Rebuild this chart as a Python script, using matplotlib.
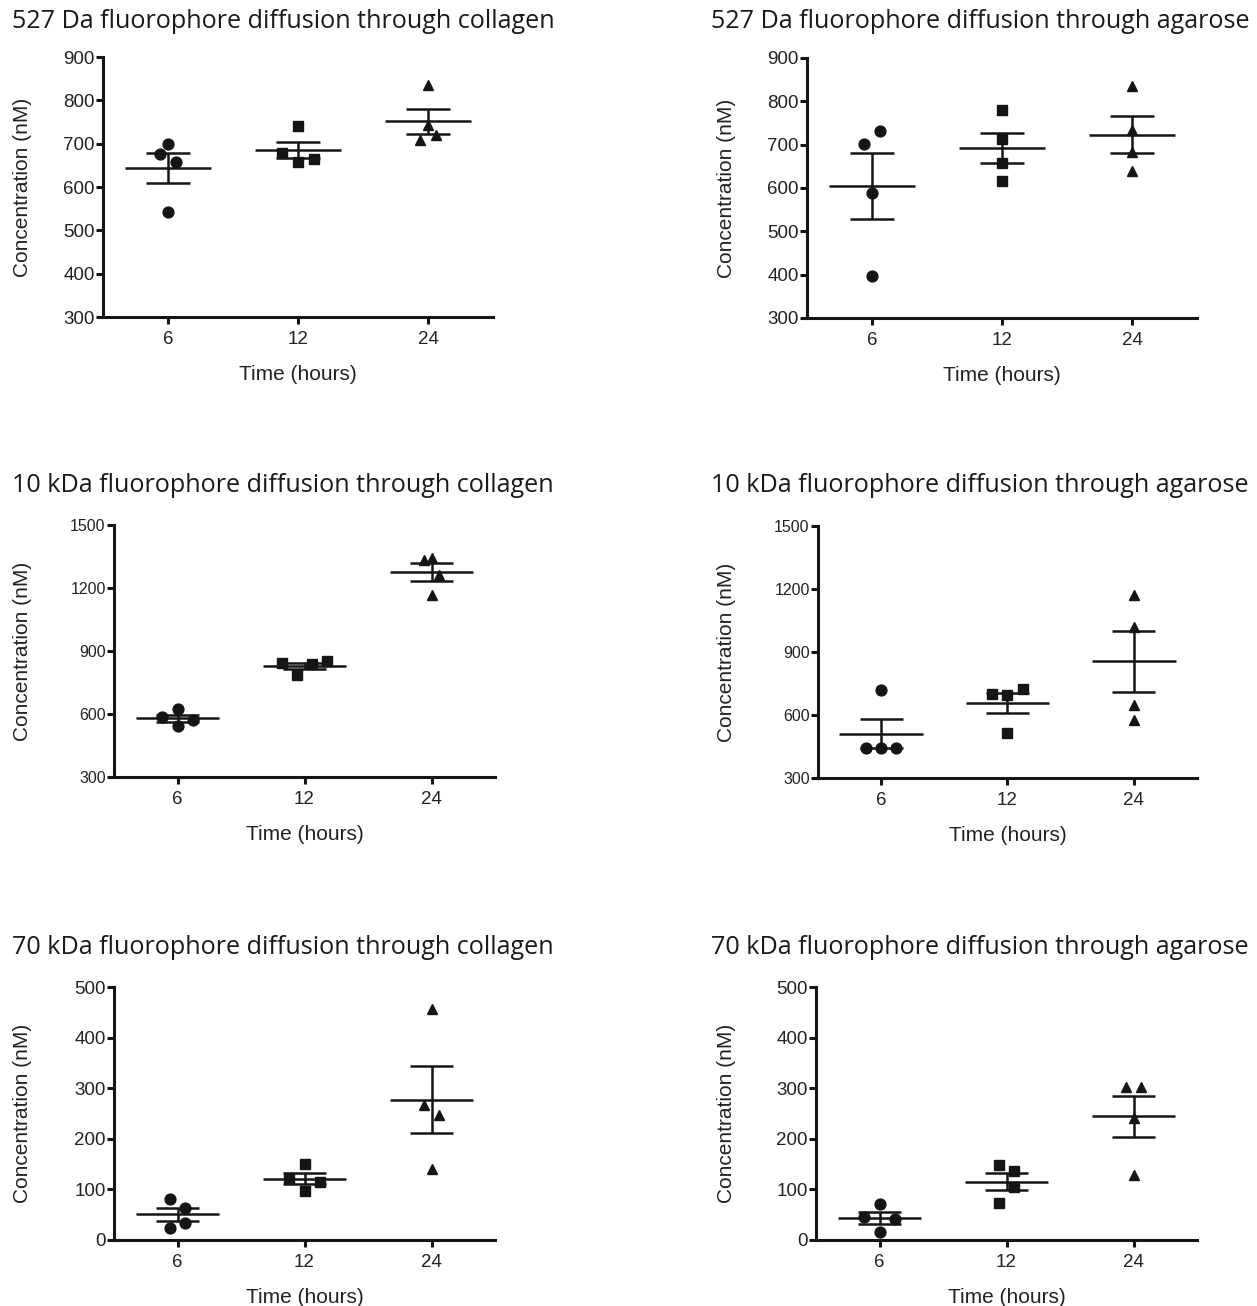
import numpy as np
import matplotlib.pyplot as plt

# Данные (нМ), по 4 измерения на каждое время
times = ['6', '12', '24']

collagen_527 = [[700, 676, 658, 542], [741, 678, 658, 664], [836, 744, 709, 719]]
agarose_527 = [[702, 732, 588, 398], [780, 714, 658, 617], [835, 735, 683, 640]]
collagen_10k = [[622, 584, 543, 571], [841, 786, 837, 852], [1335, 1345, 1262, 1165]]
agarose_10k = [[720, 441, 441, 441], [700, 697, 723, 514], [1172, 1021, 649, 578]]
collagen_70k = [[81, 64, 24, 34], [151, 122, 114, 97], [456, 266, 247, 141]]
agarose_70k = [[71, 46, 41, 16], [149, 136, 104, 73], [303, 303, 242, 129]]

titles = ['527 Da fluorophore diffusion through collagen',
          '527 Da fluorophore diffusion through agarose',
          '10 kDa fluorophore diffusion through collagen',
          '10 kDa fluorophore diffusion through agarose',
          '70 kDa fluorophore diffusion through collagen',
          '70 kDa fluorophore diffusion through agarose']

# Разброс точек по горизонтали (в полушагах), как в исходном рисунке
spread = [
    [[0, -1, 1, 0], [0, -2, 0, 2], [0, 0, -1, 1]],
    [[-1, 1, 0, 0], [0, 0, 0, 0], [0, 0, 0, 0]],
    [[0, -2, 0, 2], [-3, -1, 1, 3], [-1, 0, 1, 0]],
    [[0, -2, 0, 2], [-2, 0, 2, 0], [0, 0, 0, 0]],
    [[-1, 1, -1, 1], [0, -2, 2, 0], [0, -1, 1, 0]],
    [[0, -2, 2, 0], [-1, 1, 1, -1], [-1, 1, 0, 0]],
]

W, H = 1257, 1306
# Положение осей в пикселях: left, top, right, bottom
boxes = [(103, 57, 493, 317), (807, 58, 1197, 318),
         (114, 525, 495, 777), (818, 526, 1197, 778),
         (114, 987, 495, 1240), (816, 987, 1197, 1240)]
title_pos = [(12, 22), (711, 22), (12, 486), (711, 486), (12, 948), (711, 948)]
ylims = [(300, 900), (300, 900), (300, 1500), (300, 1500), (0, 500), (0, 500)]
yticks = [np.arange(300, 901, 100)] * 2 + [np.arange(300, 1501, 300)] * 2 + [np.arange(0, 501, 100)] * 2
tick_fs = [13.5, 13.5, 11.5, 11.5, 13.5, 13.5]

datasets = [collagen_527, agarose_527, collagen_10k, agarose_10k, collagen_70k, agarose_70k]
markers = ['o', 's', '^']
ink = '#151515'

fig = plt.figure(figsize=(W / 100, H / 100), dpi=100)

for k, data in enumerate(datasets):
    l, t, r, b = boxes[k]
    ax = fig.add_axes([l / W, 1 - b / H, (r - l) / W, (b - t) / H])

    for i, vals in enumerate(data):
        vals = np.array(vals, dtype=float)
        xs = i + 0.06 * np.array(spread[k][i])
        ax.plot(xs, vals, linestyle='none', marker=markers[i], color=ink,
                markersize=7.8 if i < 2 else 7.3, zorder=3, clip_on=False)
        m = vals.mean()
        sem = vals.std(ddof=1) / np.sqrt(len(vals))
        ax.hlines(m, i - 0.33, i + 0.33, color=ink, lw=1.8, zorder=4)
        ax.vlines(i, m - sem, m + sem, color=ink, lw=1.8, zorder=4)
        ax.hlines([m - sem, m + sem], i - 0.17, i + 0.17, color=ink, lw=1.8, zorder=4)

    ax.set_xlim(-0.5, 2.5)
    ax.set_ylim(*ylims[k])
    ax.set_xticks(range(3))
    ax.set_xticklabels(times)
    ax.set_yticks(yticks[k])
    for s in ['top', 'right']:
        ax.spines[s].set_visible(False)
    for s in ['left', 'bottom']:
        ax.spines[s].set_linewidth(2.2)
        ax.spines[s].set_color(ink)
    ax.tick_params(width=2.2, length=5, color=ink, labelcolor='#222222',
                   labelsize=tick_fs[k], pad=1)
    ax.tick_params(axis='x', labelsize=13.5, pad=5)
    for lab in ax.get_xticklabels() + ax.get_yticklabels():
        lab.set_family('Liberation Sans')

    hgt = b - t
    wid = r - l
    lab_x = 32 if l < 600 else 736
    ax.set_ylabel('Concentration (nM)', family='Liberation Sans', fontsize=15, color='#222222')
    ax.yaxis.set_label_coords((lab_x - l) / wid, 0.5)
    ax.set_xlabel('Time (hours)', family='Liberation Sans', fontsize=15, color='#222222')
    ax.xaxis.set_label_coords(0.5, -(48 / hgt))

    tx, ty = title_pos[k]
    fig.text(tx / W, 1 - ty / H, titles[k], family='Open Sans', fontsize=18.1,
             color='#1a1a1a', va='center', ha='left')

fig.savefig('out.png', dpi=100, facecolor='white')
